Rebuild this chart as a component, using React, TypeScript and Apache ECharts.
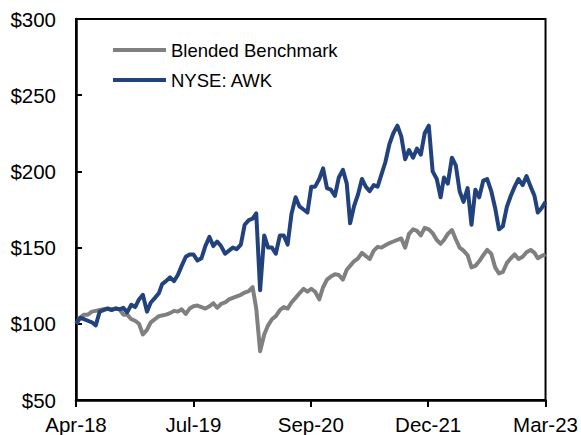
import React, { useEffect, useRef } from "react";
import * as echarts from "echarts";

// Indexed total return, $100 invested at the start of April 2018.
// Values are sampled on the 1st and 16th of each month, plus the final day.
const seriesNames = ["Blended Benchmark", "NYSE: AWK"];

const benchmarkValues = [
  100, 104, 106, 106, 108, 108.5, 109, 109.5, 110, 109.5,
  110, 109.5, 106, 106, 103, 102, 100, 93, 96, 101,
  103, 105, 105.5, 106, 107, 108.5, 108, 109.5, 106.5, 110,
  111.5, 112, 111, 110, 111.5, 113.5, 110.5, 113, 114, 116,
  117, 118, 119, 120.5, 121.5, 124, 110, 82, 93, 99,
  103, 105, 109, 111, 110, 114, 117, 120, 123, 121,
  123, 121, 116, 124, 129, 131, 132.5, 132, 129, 135.5,
  138, 141, 143, 146.5, 144.5, 142.5, 148, 150.5, 150, 151.5,
  153, 154, 155, 156, 150, 159, 162, 161, 158, 163,
  162, 159.5, 155, 152.5, 155, 159, 161.5, 155.5, 150, 148,
  145, 137, 138, 141, 145, 148.5, 146, 137, 133, 134,
  140, 143, 145.5, 142.5, 144, 147, 148.5, 146.5, 143, 144.5,
  145.5,
];

const awkValues = [
  100, 104, 103, 102, 101, 99, 108, 109, 110, 109,
  110, 109.5, 110.5, 107.5, 112.5, 111, 116, 119, 108, 114,
  117, 120, 126, 128, 130.5, 128, 132, 138, 144, 145.5,
  145.5, 141.5, 143, 151, 157, 151, 154, 151, 146, 148,
  150, 149, 152, 165, 168, 169, 172.5, 122, 158, 150,
  150, 146, 158, 158, 152, 172, 183, 177, 175, 173,
  190, 190, 195, 202, 189, 188, 184, 196, 201, 192,
  166, 177, 185, 195, 190, 187, 191, 190, 198, 206,
  218, 225, 230, 223, 208, 214, 209, 215, 211, 225,
  230, 200, 195, 183, 196, 192, 209, 204, 187, 180,
  189, 165, 188, 183, 194, 195, 187, 176, 162, 164,
  177, 184, 190, 195, 191, 197, 190, 184, 173, 176,
  180,
];

const xTickLabels = ["Apr-18", "Jul-19", "Sep-20", "Dec-21", "Mar-23"];
const yMin = 50;
const yMax = 300;
const yStep = 50;

// x positions are days counted from 31 Mar 2018; the axis spans five years.
const DAY = 86400000;
const origin = Date.UTC(2018, 2, 31);
const spanDays = (Date.UTC(2023, 2, 31) - origin) / DAY;
const xStep = spanDays / (xTickLabels.length - 1);

const sampleDays: number[] = [];
for (let m = 0; m < 60; m++) {
  const year = 2018 + Math.floor((3 + m) / 12);
  const month = (3 + m) % 12;
  sampleDays.push((Date.UTC(year, month, 1) - origin) / DAY);
  sampleDays.push((Date.UTC(year, month, 16) - origin) / DAY);
}
sampleDays.push(spanDays);

const pairs = (vals: number[]) => vals.map((v, i) => [sampleDays[i], v]);

const FONT = "'Liberation Sans', Arial, sans-serif";

export default function App() {
  const ref = useRef<HTMLDivElement>(null);

  useEffect(() => {
    if (!ref.current) return;
    const chart = echarts.init(ref.current, null, { renderer: "svg" });
    chart.setOption({
      animation: false,
      backgroundColor: "#ffffff",
      grid: {
        left: 76,
        right: 35,
        top: 19,
        bottom: 34,
        show: true,
        borderColor: "#000000",
        borderWidth: 2,
        backgroundColor: "transparent",
      },
      legend: {
        orient: "vertical",
        left: 113,
        top: 40,
        padding: 0,
        itemGap: 10,
        itemWidth: 53,
        itemHeight: 4,
        icon: "rect",
        data: seriesNames,
        textStyle: {
          fontFamily: FONT,
          fontSize: 18.5,
          lineHeight: 20,
          color: "#000000",
        },
      },
      xAxis: {
        type: "value",
        min: 0,
        max: spanDays,
        interval: xStep,
        axisLine: { show: true, lineStyle: { color: "#000000", width: 2.5 } },
        axisTick: {
          show: true,
          inside: false,
          length: 7,
          lineStyle: { color: "#000000", width: 2 },
        },
        splitLine: { show: false },
        axisLabel: {
          show: true,
          margin: 14,
          showMinLabel: true,
          showMaxLabel: true,
          fontFamily: FONT,
          fontSize: 20.5,
          color: "#000000",
          formatter: (v: number) => xTickLabels[Math.round(v / xStep)] ?? "",
        },
      },
      yAxis: {
        type: "value",
        min: yMin,
        max: yMax,
        interval: yStep,
        axisLine: { show: true, lineStyle: { color: "#000000", width: 2.5 } },
        axisTick: {
          show: true,
          inside: true,
          length: 6,
          lineStyle: { color: "#000000", width: 2 },
        },
        splitLine: { show: false },
        axisLabel: {
          margin: 20,
          fontFamily: FONT,
          fontSize: 20.5,
          color: "#000000",
          formatter: (v: number) => "$" + v,
        },
      },
      series: [
        {
          name: seriesNames[0],
          type: "line",
          data: pairs(benchmarkValues),
          showSymbol: false,
          color: "#808080",
          lineStyle: { width: 4, color: "#808080", join: "round" },
        },
        {
          name: seriesNames[1],
          type: "line",
          data: pairs(awkValues),
          showSymbol: false,
          color: "#22427d",
          lineStyle: { width: 4, color: "#22427d", join: "round" },
        },
      ],
    });
    return () => chart.dispose();
  }, []);

  return (
    <div
      ref={ref}
      style={{ position: "fixed", left: 0, top: 0, width: 581, height: 435 }}
    />
  );
}
